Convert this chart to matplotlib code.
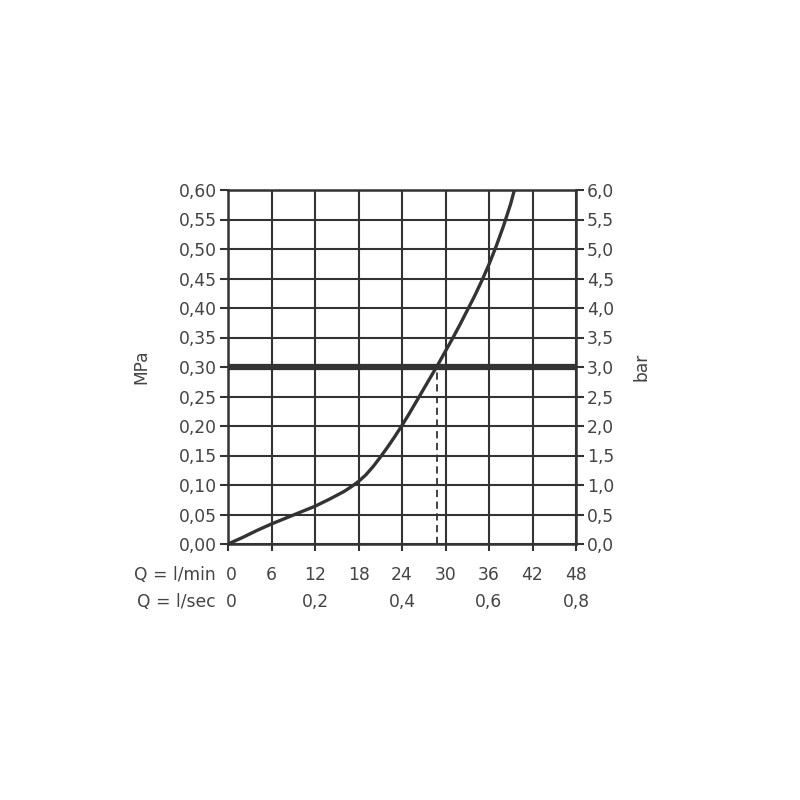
import matplotlib
matplotlib.use("Agg")
import matplotlib.pyplot as plt
import matplotlib.transforms as mtransforms

# flow rate in l/min and pressure in MPa
flow = [0, 2, 4, 6, 8, 10, 12, 14, 16, 17, 18, 19, 20, 21, 22, 23, 24, 25, 26, 27,
        28, 29, 30, 31, 32, 33, 34, 35, 36, 37, 38, 39, 39.5]
pressure = [0, 0.011, 0.023, 0.034, 0.044, 0.054, 0.064, 0.076, 0.089, 0.097,
            0.106, 0.117, 0.131, 0.147, 0.164, 0.182, 0.201, 0.221, 0.242, 0.263,
            0.284, 0.305, 0.327, 0.349, 0.372, 0.396, 0.420, 0.446, 0.474, 0.505,
            0.539, 0.577, 0.600]

mpa_ticks = [0.00, 0.05, 0.10, 0.15, 0.20, 0.25, 0.30, 0.35, 0.40, 0.45, 0.50, 0.55, 0.60]
bar_ticks = [0.0, 0.5, 1.0, 1.5, 2.0, 2.5, 3.0, 3.5, 4.0, 4.5, 5.0, 5.5, 6.0]
lmin_ticks = [0, 6, 12, 18, 24, 30, 36, 42, 48]
lsec_ticks = [0, 0.2, 0.4, 0.6, 0.8]
ref_pressure = 0.30
ref_flow = 28.8

plt.rcParams['font.family'] = ['DejaVu Sans']
txt = '#444444'
ln = '#333333'
fs = 12.3

fig = plt.figure(figsize=(8, 8), dpi=100)
ax = fig.add_axes([0.285, 0.32, 0.435, 0.4425])
ax.set_xlim(0, 48)
ax.set_ylim(0, 0.60)

ax.set_xticks(lmin_ticks)
ax.set_yticks(mpa_ticks)
ax.grid(True, color=ln, linewidth=1.5)
ax.set_axisbelow(True)
for s in ax.spines.values():
    s.set_color(ln)
    s.set_linewidth(1.8)

ax.set_yticklabels([f"{v:.2f}".replace('.', ',') for v in mpa_ticks], color=txt, fontsize=fs)
ax.set_xticklabels([])
ax.tick_params(axis='y', length=6, width=1.5, color=ln, pad=2)
ax.tick_params(axis='x', length=5, width=1.5, color=ln)
ax.set_ylabel('MPa', color=txt, fontsize=fs)
ax.yaxis.set_label_coords(-0.224, 0.5)

ax2 = ax.twinx()
ax2.set_ylim(0, 6)
ax2.set_yticks(bar_ticks)
ax2.set_yticklabels([f"{v:.1f}".replace('.', ',') for v in bar_ticks], color=txt, fontsize=fs)
ax2.tick_params(axis='y', length=6, width=1.5, color=ln, pad=2)
ax2.set_ylabel('bar', color=txt, fontsize=fs)
ax2.yaxis.set_label_coords(1.161, 0.5)
for s in ax2.spines.values():
    s.set_visible(False)

ax.axhline(ref_pressure, color=ln, linewidth=4.5, zorder=3)
ax.plot([ref_flow, ref_flow], [0, ref_pressure], color=ln, linewidth=1.3,
        linestyle=(0, (4, 2.5)), zorder=3)
ax.plot(flow, pressure, color=ln, linewidth=2.4, zorder=4, solid_capstyle='butt',
        solid_joinstyle='round')

# two rows of flow labels under the chart
trans = mtransforms.blended_transform_factory(ax.transData, ax.transAxes)
row1 = -0.0876
row2 = -0.164
for v in lmin_ticks:
    ax.text(v + (0.5 if v == 0 else 0), row1, str(v), transform=trans, ha='center',
            va='center', color=txt, fontsize=fs)
for v in lsec_ticks:
    lab = '0' if v == 0 else f"{v:.1f}".replace('.', ',')
    ax.text(v * 60 + (0.5 if v == 0 else 0), row2, lab, transform=trans, ha='center',
            va='center', color=txt, fontsize=fs)
ax.text(-1.66, row1, 'Q = l/min', transform=trans, ha='right', va='center',
        color=txt, fontsize=fs)
ax.text(-1.66, row2, 'Q = l/sec', transform=trans, ha='right', va='center',
        color=txt, fontsize=fs)

fig.savefig('out.png', dpi=100, facecolor='white')
